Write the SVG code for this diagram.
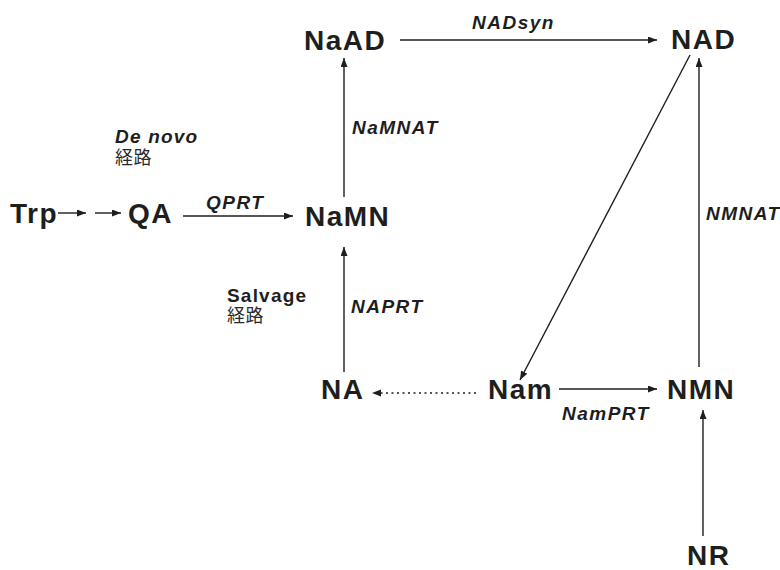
<svg xmlns="http://www.w3.org/2000/svg" width="780" height="570" viewBox="0 0 780 570">
  <defs>
    <marker id="arrow" markerWidth="10" markerHeight="8" refX="9" refY="3.5" orient="auto" markerUnits="userSpaceOnUse">
      <path d="M0,0 L9,3.5 L0,7 Z" fill="#1e1e1e"/>
    </marker>
    <style>
      .node { font-family: "Liberation Sans", Arial, sans-serif; font-weight: bold; font-size: 28px; letter-spacing: 1.5px; fill: #1e1e1e; }
      .enz { font-family: "Liberation Sans", Arial, sans-serif; font-weight: bold; font-style: italic; font-size: 19px; letter-spacing: 1.5px; fill: #1e1e1e; }
      .path { font-family: "Liberation Sans", Arial, sans-serif; font-weight: bold; font-size: 19px; letter-spacing: 1.2px; fill: #1e1e1e; }
      .cjk { font-family: "Liberation Sans", "Noto Sans CJK JP", sans-serif; font-size: 18px; letter-spacing: 0.5px; fill: #2a2a2a; }
      .edge { stroke: #1e1e1e; stroke-width: 1.4; fill: none; marker-end: url(#arrow); }
      .dotted { stroke-dasharray: 2 3.5; }
    </style>
  </defs>
  <rect width="780" height="570" fill="#ffffff"/>

  <!-- connectors -->
  <g id="connectors">
    <line class="edge" x1="58" y1="213" x2="86" y2="213"/>
    <line class="edge" x1="95" y1="213" x2="121" y2="213"/>
    <line class="edge" x1="183" y1="216" x2="293" y2="216"/>
    <line class="edge" x1="344" y1="197" x2="344" y2="58"/>
    <line class="edge" x1="344" y1="372" x2="344" y2="247"/>
    <line class="edge" x1="400" y1="40" x2="657" y2="40"/>
    <line class="edge" x1="690" y1="55" x2="520" y2="380"/>
    <line class="edge" x1="699" y1="367" x2="699" y2="58"/>
    <line class="edge dotted" x1="476" y1="393" x2="372" y2="393"/>
    <line class="edge" x1="559" y1="389" x2="657" y2="389"/>
    <line class="edge" x1="703" y1="536" x2="703" y2="410"/>
  </g>

  <!-- enzyme labels -->
  <g id="enzymes">
    <text class="enz" x="472" y="29">NADsyn</text>
    <text class="enz" x="352" y="134">NaMNAT</text>
    <text class="enz" x="206" y="209">QPRT</text>
    <text class="enz" x="351" y="313">NAPRT</text>
    <text class="enz" x="706" y="220">NMNAT</text>
    <text class="enz" x="562" y="420">NamPRT</text>
  </g>

  <!-- pathway labels -->
  <g id="pathway-denovo">
    <text class="path" x="115" y="143" font-style="italic">De novo</text>
    <text class="cjk" x="115" y="164">経路</text>
  </g>
  <g id="pathway-salvage">
    <text class="path" x="227" y="302">Salvage</text>
    <text class="cjk" x="227" y="322">経路</text>
  </g>

  <!-- metabolites -->
  <g id="Trp"><text class="node" x="10" y="223">Trp</text></g>
  <g id="QA"><text class="node" x="128" y="223">QA</text></g>
  <g id="NaMN"><text class="node" x="305" y="226">NaMN</text></g>
  <g id="NaAD"><text class="node" x="304" y="50">NaAD</text></g>
  <g id="NAD"><text class="node" x="671" y="49">NAD</text></g>
  <g id="NA"><text class="node" x="321" y="399">NA</text></g>
  <g id="Nam"><text class="node" x="488" y="399">Nam</text></g>
  <g id="NMN"><text class="node" x="667" y="399">NMN</text></g>
  <g id="NR"><text class="node" x="687" y="565">NR</text></g>
</svg>
